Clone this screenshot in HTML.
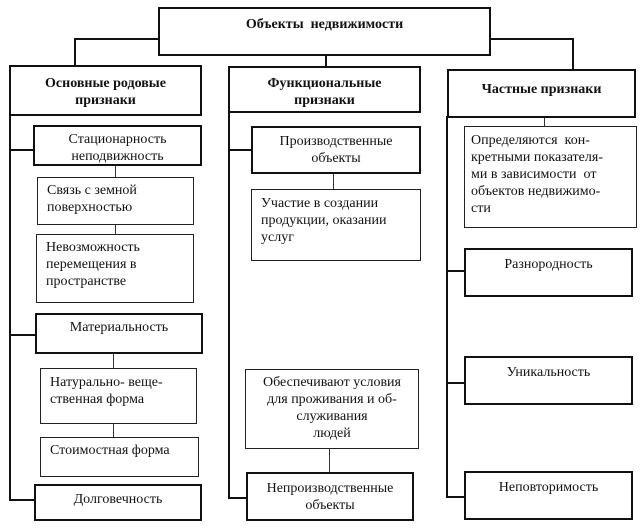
<!DOCTYPE html>
<html><head><meta charset="utf-8"><style>
body{margin:0;width:642px;height:532px;background:#fff;position:relative;overflow:hidden;font-family:"Liberation Serif",serif;font-size:14px;color:#111}
.b{position:absolute;box-sizing:border-box;border:1px solid #222;line-height:17px;background:#fff}
.t{border:2px solid #111}
.c{text-align:center}
.l{text-align:left;padding-left:9px}
.h{position:absolute;background:#111;height:2px}
.v{position:absolute;background:#111;width:2px}
.hv{position:absolute;background:#333;width:1px}
.bold{font-weight:bold}
</style></head><body>
<!-- connectors -->
<div class="h" style="left:74px;top:38px;width:86px"></div>
<div class="v" style="left:74px;top:38px;height:28px"></div>
<div class="h" style="left:490px;top:38px;width:84px"></div>
<div class="v" style="left:572px;top:38px;height:32px"></div>
<div class="v" style="left:325px;top:55px;height:12px"></div>

<div class="v" style="left:9px;top:114px;height:387px"></div>
<div class="h" style="left:9px;top:149px;width:25px"></div>
<div class="h" style="left:9px;top:334px;width:27px"></div>
<div class="h" style="left:9px;top:499px;width:26px"></div>
<div class="hv" style="left:115px;top:165px;height:13px"></div>
<div class="hv" style="left:115px;top:224px;height:11px"></div>
<div class="hv" style="left:113px;top:352px;height:17px"></div>
<div class="hv" style="left:113px;top:423px;height:15px"></div>

<div class="v" style="left:228px;top:111px;height:388px"></div>
<div class="h" style="left:228px;top:149px;width:24px"></div>
<div class="h" style="left:228px;top:497px;width:19px"></div>
<div class="hv" style="left:333px;top:173px;height:17px"></div>
<div class="hv" style="left:329px;top:448px;height:25px"></div>

<div class="v" style="left:446px;top:116px;height:382px"></div>
<div class="h" style="left:446px;top:270px;width:19px"></div>
<div class="h" style="left:446px;top:382px;width:19px"></div>
<div class="h" style="left:446px;top:496px;width:19px"></div>
<div class="hv" style="left:544px;top:116px;height:11px"></div>

<!-- boxes -->
<div class="b t c bold" style="left:158px;top:7px;width:333px;height:49px;padding-top:7px">Объекты&nbsp; недвижимости</div>
<div class="b t c bold" style="left:9px;top:65px;width:193px;height:51px;padding-top:8px">Основные родовые<br>признаки</div>
<div class="b t c bold" style="left:228px;top:66px;width:193px;height:47px;padding-top:7px">Функциональные<br>признаки</div>
<div class="b t c bold" style="left:447px;top:69px;width:189px;height:49px;padding-top:10px">Частные признаки</div>

<div class="b t c" style="left:33px;top:125px;width:169px;height:41px;padding-top:4px">Стационарность<br>неподвижность</div>
<div class="b l" style="left:37px;top:177px;width:157px;height:48px;padding-top:4px">Связь с земной<br>поверхностью</div>
<div class="b l" style="left:36px;top:234px;width:158px;height:69px;padding-top:4px">Невозможность<br>перемещения в<br>пространстве</div>
<div class="b t c" style="left:35px;top:313px;width:168px;height:41px;padding-top:4px">Материальность</div>
<div class="b l" style="left:40px;top:368px;width:157px;height:56px;padding-top:5px">Натурально- веще-<br>ственная форма</div>
<div class="b l" style="left:40px;top:437px;width:159px;height:40px;padding-top:4px">Стоимостная форма</div>
<div class="b t c" style="left:34px;top:484px;width:168px;height:37px;padding-top:5px">Долговечность</div>

<div class="b t c" style="left:251px;top:126px;width:170px;height:48px;padding-top:5px">Производственные<br>объекты</div>
<div class="b l" style="left:251px;top:189px;width:170px;height:72px;padding-top:5px">Участие в создании<br>продукции, оказании<br>услуг</div>
<div class="b c" style="left:245px;top:369px;width:174px;height:80px;padding-top:4px">Обеспечивают условия<br>для проживания и об-<br>служивания<br>людей</div>
<div class="b t c" style="left:246px;top:472px;width:168px;height:49px;padding-top:6px">Непроизводственные<br>объекты</div>

<div class="b l" style="left:464px;top:126px;width:173px;height:102px;padding-top:5px;padding-left:6px">Определяются&nbsp; кон-<br>кретными показателя-<br>ми в зависимости&nbsp; от<br>объектов недвижимо-<br>сти</div>
<div class="b t c" style="left:464px;top:248px;width:169px;height:49px;padding-top:6px">Разнородность</div>
<div class="b t c" style="left:464px;top:356px;width:169px;height:49px;padding-top:6px">Уникальность</div>
<div class="b t c" style="left:464px;top:471px;width:169px;height:49px;padding-top:6px">Неповторимость</div>
</body></html>
